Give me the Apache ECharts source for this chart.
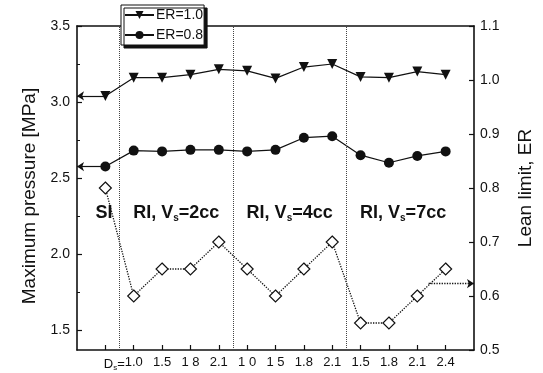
<!DOCTYPE html>
<html>
<head>
<meta charset="utf-8">
<script src="https://cdn.jsdelivr.net/npm/echarts@6/dist/echarts.min.js"></script>
<style>
html, body { margin: 0; padding: 0; background: #fff; }
#main { width: 543px; height: 373px; }
</style>
</head>
<body>
<div id="main"></div>
<script>
var myChart = echarts.init(document.getElementById('main'));

// x positions are case indices, labels under each tick
var xLabels = ['{dd|D}{sub|s}{d|=}', '1.0', '1.5', '1 8', '2.1', '1 0', '1 5', '1.8', '2.1', '1.5', '1.8', '2.1', '2.4'];
// max pressure [MPa]
var er10 = [3.04, 3.16, 3.16, 3.18, 3.215, 3.205, 3.155, 3.23, 3.25, 3.165, 3.16, 3.2, 3.18];
var er08 = [2.575, 2.68, 2.675, 2.685, 2.685, 2.675, 2.685, 2.765, 2.775, 2.65, 2.6, 2.645, 2.675];
// lean limit, ER
var lean = [0.8, 0.6, 0.65, 0.65, 0.7, 0.65, 0.6, 0.65, 0.7, 0.55, 0.55, 0.6, 0.65];
var leanArrow = [[11.4, 0.623], [13, 0.623]];
var separators = [0.5, 4.5, 8.5];
var groupNames = ['SI', 'RI, V{s|s}=2cc', 'RI, V{s|s}=4cc', 'RI, V{s|s}=7cc'];
var groupX = [-0.05, 2.5, 6.5, 10.5];
var groupY = 2.27;

var leftLabels = [1.5, 2.0, 2.5, 3.0, 3.5];
var leftMinor = [1.75, 2.25, 2.75, 3.25];

function pairs(arr) {
	return arr.map(function(v, i) { return [i, v]; });
}
var idx = xLabels.map(function(l, i) { return i; });

var axisCol = '#111';
var font = 'Liberation Sans, Arial, sans-serif';

var option = {
	backgroundColor: '#fff',
	animation: false,
	grid: { left: 77, right: 64, top: 26, bottom: 23 },
	legend: {
		data: ['ER=1.0', 'ER=0.8'],
		orient: 'vertical',
		left: 121,
		top: 5,
		padding: [3, 1, 3, 3],
		itemGap: 6,
		itemWidth: 29,
		itemHeight: 10,
		backgroundColor: '#fff',
		borderColor: '#111',
		borderWidth: 1,
		shadowColor: '#111',
		shadowBlur: 0,
		shadowOffsetX: 3,
		shadowOffsetY: 3,
		textStyle: { fontSize: 14, color: '#111', fontFamily: font, padding: [0, 0, 0, -3] }
	},
	xAxis: [{
		type: 'value',
		min: -1,
		max: 13,
		splitLine: { show: false },
		axisLine: { onZero: false, lineStyle: { color: axisCol, width: 1.6 } },
		axisTick: { inside: true, length: 5, customValues: idx, lineStyle: { color: axisCol, width: 1.2 } },
		axisLabel: {
			customValues: idx,
			margin: 6,
			fontSize: 13,
			color: '#111',
			fontFamily: font,
			formatter: function(v) { return xLabels[Math.round(v)]; },
			rich: {
				dd: { fontSize: 13, color: '#111', fontFamily: font, padding: [0, 0, 0, 18] },
				d: { fontSize: 13, color: '#111', fontFamily: font },
				sub: { fontSize: 8, color: '#111', fontFamily: font, verticalAlign: 'bottom', padding: [8, 0, 0, 0] }
			}
		}
	}, {
		type: 'value',
		position: 'top',
		min: -1,
		max: 13,
		splitLine: { show: false },
		axisLine: { onZero: false, lineStyle: { color: axisCol, width: 1.6 } },
		axisTick: { show: false },
		axisLabel: { show: false }
	}],
	yAxis: [{
		type: 'value',
		position: 'left',
		min: 1.368,
		max: 3.5,
		name: 'Maximum pressure [MPa]',
		nameLocation: 'middle',
		nameRotate: 90,
		nameGap: 36,
		nameTextStyle: { fontSize: 19, color: '#111', fontFamily: font, padding: [0, 16, 0, 0] },
		splitLine: { show: false },
		axisLine: { show: true, onZero: false, lineStyle: { color: axisCol, width: 1.6 } },
		axisTick: { inside: true, length: 5, customValues: leftLabels, lineStyle: { color: axisCol, width: 1.2 } },
		axisLabel: {
			customValues: leftLabels,
			margin: 7,
			fontSize: 14,
			color: '#111',
			fontFamily: font,
			formatter: function(v) { return v.toFixed(1); }
		}
	}, {
		type: 'value',
		position: 'right',
		min: 0.5,
		max: 1.1,
		interval: 0.1,
		name: 'Lean limit, ER',
		nameLocation: 'middle',
		nameRotate: 90,
		nameGap: 42,
		nameTextStyle: { fontSize: 19, color: '#111', fontFamily: font },
		splitLine: { show: false },
		axisLine: { show: true, onZero: false, lineStyle: { color: axisCol, width: 1.6 } },
		axisTick: { inside: true, length: 5, lineStyle: { color: axisCol, width: 1.2 } },
		axisLabel: {
			margin: 6,
			fontSize: 14,
			color: '#111',
			fontFamily: font,
			formatter: function(v) { return v.toFixed(1); }
		}
	}, {
		type: 'value',
		position: 'left',
		min: 1.368,
		max: 3.5,
		splitLine: { show: false },
		axisLine: { show: false, onZero: false },
		axisTick: { show: true, inside: true, length: 3, customValues: leftMinor, lineStyle: { color: axisCol, width: 1 } },
		axisLabel: { show: false }
	}],
	series: [{
		name: 'ER=1.0',
		type: 'line',
		yAxisIndex: 0,
		data: pairs(er10),
		symbol: 'triangle',
		symbolRotate: 180,
		symbolSize: 10,
		itemStyle: { color: '#111' },
		lineStyle: { color: '#111', width: 1.2 },
		markLine: {
			silent: true,
			symbol: ['none', 'arrow'],
			symbolSize: 7,
			label: { show: false },
			lineStyle: { color: '#111', width: 1.2, type: 'solid' },
			data: [[{ coord: [0, er10[0]] }, { coord: [-1, er10[0]] }]]
		}
	}, {
		name: 'ER=0.8',
		type: 'line',
		yAxisIndex: 0,
		data: pairs(er08),
		symbol: 'circle',
		symbolSize: 10,
		itemStyle: { color: '#111' },
		lineStyle: { color: '#111', width: 1.2 },
		markLine: {
			silent: true,
			symbol: ['none', 'arrow'],
			symbolSize: 7,
			label: { show: false },
			lineStyle: { color: '#111', width: 1.2, type: 'solid' },
			data: [[{ coord: [0, er08[0]] }, { coord: [-1, er08[0]] }]]
		}
	}, {
		name: 'Lean limit',
		type: 'line',
		yAxisIndex: 1,
		data: pairs(lean),
		symbol: 'diamond',
		symbolSize: 12,
		itemStyle: { color: '#fff', borderColor: '#111', borderWidth: 1.2 },
		lineStyle: { color: '#111', width: 1.3, type: 'dotted' },
		z: 3,
		markLine: {
			silent: true,
			symbol: ['none', 'arrow'],
			symbolSize: 7,
			label: { show: false },
			lineStyle: { color: '#111', width: 1.3, type: 'dotted' },
			data: [
				[{ coord: leanArrow[0] }, { coord: leanArrow[1] }]
			]
		}
	}, {
		name: 'sep',
		type: 'line',
		data: [],
		markLine: {
			silent: true,
			symbol: 'none',
			label: { show: false },
			lineStyle: { color: '#444', width: 1, type: 'dotted' },
			data: separators.map(function(x) { return { xAxis: x }; })
		}
	}]
};

myChart.setOption(option);

// region labels placed through the axes
var texts = groupNames.map(function(t, i) {
	var p = myChart.convertToPixel({ xAxisIndex: 0, yAxisIndex: 0 }, [groupX[i], groupY]);
	return {
		type: 'text',
		x: p[0],
		y: p[1],
		z: 10,
		style: {
			text: t,
			align: 'center',
			verticalAlign: 'middle',
			fontSize: 18,
			fontWeight: 'bold',
			fill: '#111',
			fontFamily: font,
			rich: {
				s: { fontSize: 10, fontWeight: 'bold', fill: '#111', fontFamily: font, verticalAlign: 'bottom', padding: [10, 0, 0, 0] }
			}
		}
	};
});
myChart.setOption({ graphic: texts });
</script>
</body>
</html>
